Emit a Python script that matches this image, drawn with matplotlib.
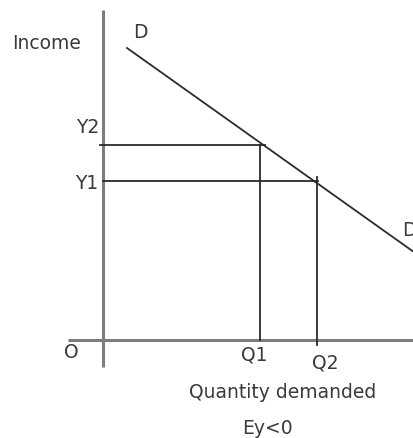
import matplotlib.pyplot as plt

# Income levels and the quantities bought at each (origin O at 0, 0)
income_levels = [15.9, 19.5]        # Y1, Y2
income_labels = ["Y1", "Y2"]
quantities = [15.7, 21.4]           # Q1, Q2
quantity_labels = ["Q1", "Q2"]

# End points of the D line
demand_q = [2.4, 32.0]
demand_y = [29.2, 8.15]

axis_color = "#7d7d7d"
line_color = "#2b2b2b"
text_color = "#3a3a3a"

fig = plt.figure(figsize=(4.14, 4.38), dpi=100)
ax = fig.add_axes([0, 0, 1, 1])
ax.set_xlim(-10.3, 31.1)
ax.set_ylim(-9.8, 34.0)
ax.axis("off")

# Axes of the diagram
ax.plot([0, 0], [-2.7, 33.0], color=axis_color, lw=2.2, solid_capstyle="butt")
ax.plot([-3.5, 31.1], [0, 0], color=axis_color, lw=2.2, solid_capstyle="butt")

# Demand curve
ax.plot(demand_q, demand_y, color=line_color, lw=1.3)

# Guide lines: Y2 goes with Q1, Y1 with Q2 (negative income effect)
ax.plot([-0.3, quantities[0] + 0.5], [income_levels[1]] * 2, color=line_color, lw=1.3)
ax.plot([0, quantities[1] + 0.1], [income_levels[0]] * 2, color=line_color, lw=1.3)
ax.plot([quantities[0]] * 2, [income_levels[1], 0], color=line_color, lw=1.3)
ax.plot([quantities[1]] * 2, [income_levels[0] + 0.4, -0.5], color=line_color, lw=1.3)

font = dict(color=text_color, fontsize=13.5, ha="center", va="center")
ax.text(-5.6, 29.6, "Income", **font)
ax.text(3.7, 30.7, "D", **font)
ax.text(29.9, 10.9, "D", color=text_color, fontsize=13.5, ha="left", va="center")
ax.text(-1.5, income_levels[1] + 1.7, income_labels[1], **font)
ax.text(-1.6, income_levels[0] - 0.3, income_labels[0], **font)
ax.text(-3.2, -1.3, "O", **font)
ax.text(quantities[0] - 0.6, -1.5, quantity_labels[0], **font)
ax.text(quantities[1] + 0.8, -2.3, quantity_labels[1], **font)
ax.text(18.0, -5.3, "Quantity demanded", **font)
ax.text(16.4, -8.8, "Ey<0", **font)

plt.savefig("out.png", dpi=100)
plt.close()
